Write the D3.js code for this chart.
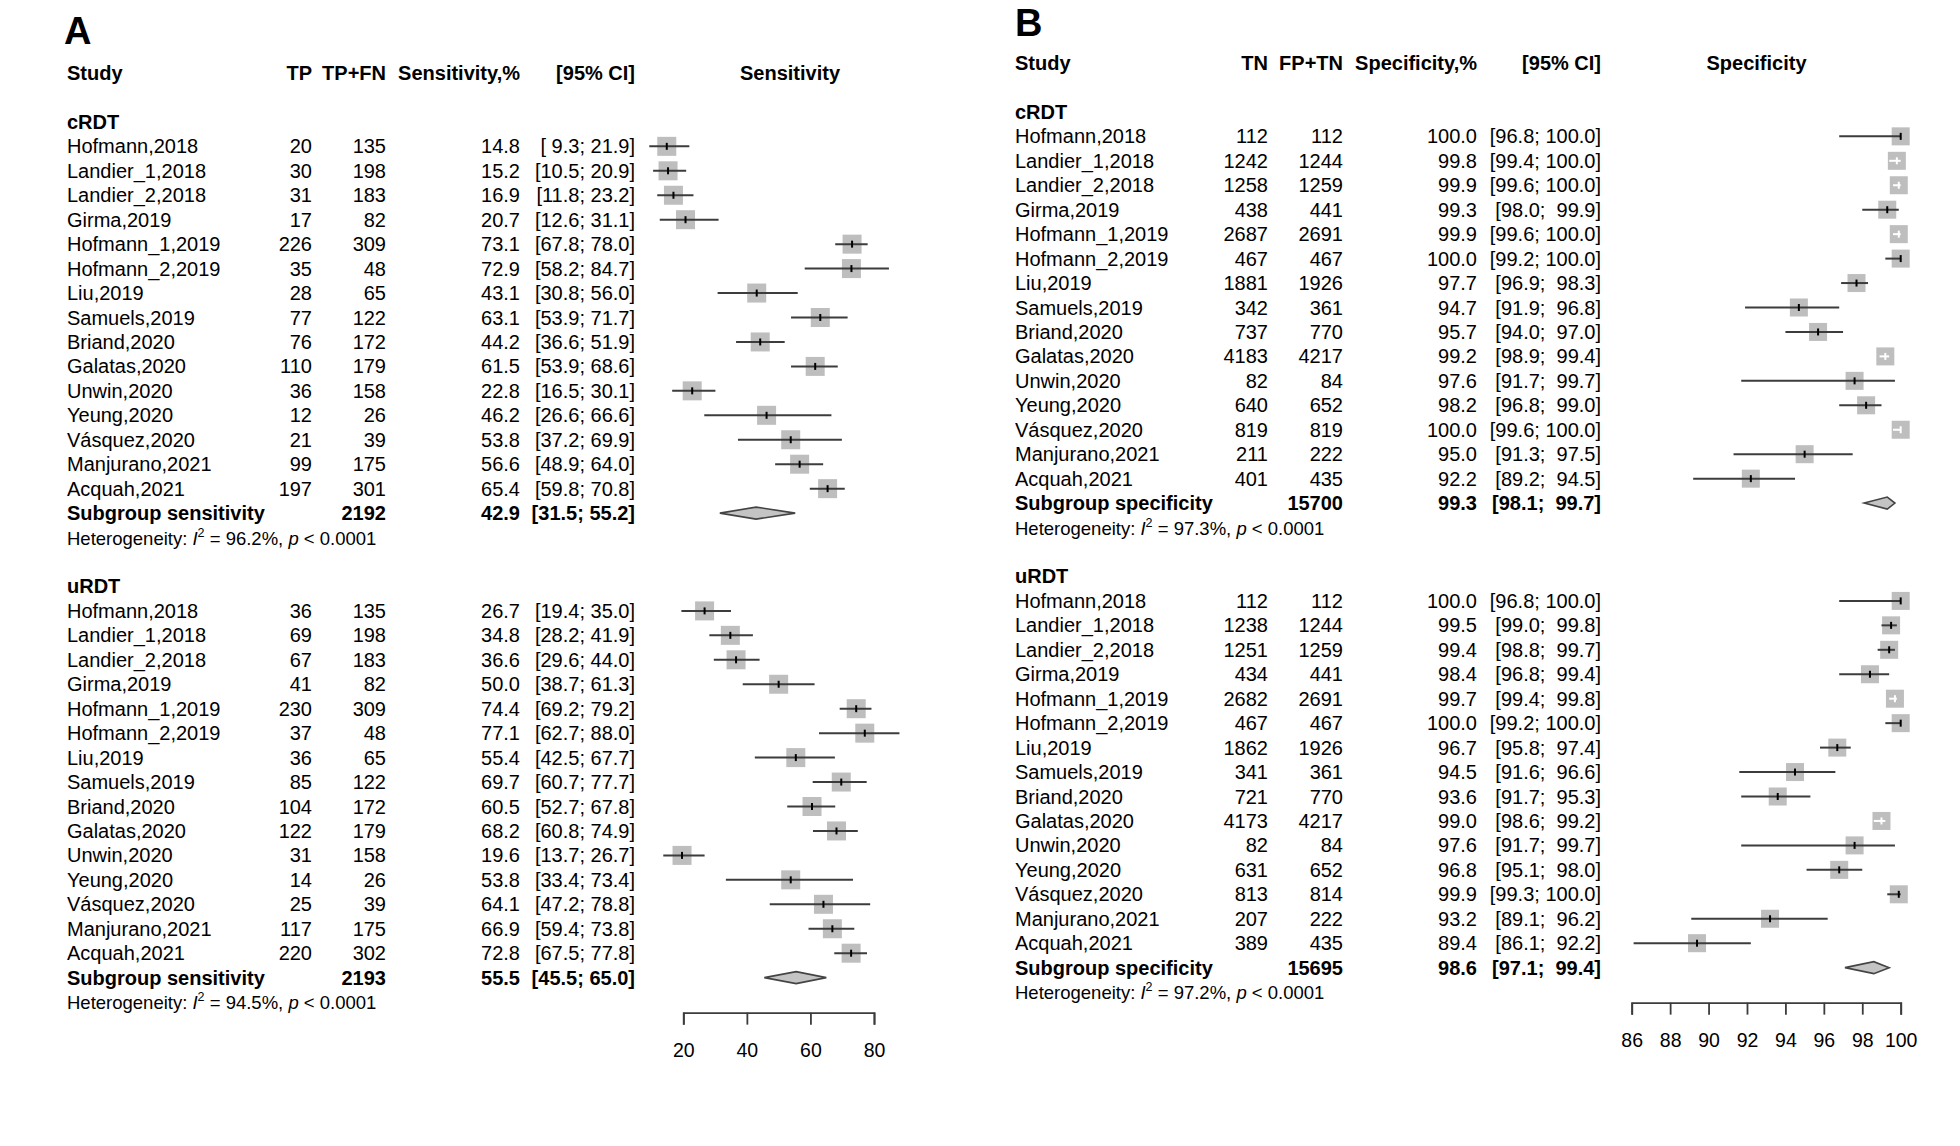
<!DOCTYPE html>
<html>
<head>
<meta charset="utf-8">
<script src="https://cdn.jsdelivr.net/npm/d3@7"></script>
<style>
  html, body { margin: 0; padding: 0; background: #fff; }
  svg { display: block; }
  text { font-family: "Liberation Sans", Arial, Helvetica, sans-serif; fill: #000; white-space: pre; }
</style>
</head>
<body>
<svg id="chart" width="1960" height="1146"></svg>
<script>
// ---------------- DATA ----------------
const studies = ["Hofmann,2018", "Landier_1,2018", "Landier_2,2018", "Girma,2019", "Hofmann_1,2019",
  "Hofmann_2,2019", "Liu,2019", "Samuels,2019", "Briand,2020", "Galatas,2020", "Unwin,2020",
  "Yeung,2020", "Vásquez,2020", "Manjurano,2021", "Acquah,2021"];
const subgroups = ["cRDT", "uRDT"];

// Panel A – sensitivity
const crdtTP   = [20, 30, 31, 17, 226, 35, 28, 77, 76, 110, 36, 12, 21, 99, 197];
const crdtTPFN = [135, 198, 183, 82, 309, 48, 65, 122, 172, 179, 158, 26, 39, 175, 301];
const crdtSens   = [14.8, 15.2, 16.9, 20.7, 73.1, 72.9, 43.1, 63.1, 44.2, 61.5, 22.8, 46.2, 53.8, 56.6, 65.4];
const crdtSensLo = [9.3, 10.5, 11.8, 12.6, 67.8, 58.2, 30.8, 53.9, 36.6, 53.9, 16.5, 26.6, 37.2, 48.9, 59.8];
const crdtSensHi = [21.9, 20.9, 23.2, 31.1, 78.0, 84.7, 56.0, 71.7, 51.9, 68.6, 30.1, 66.6, 69.9, 64.0, 70.8];

const urdtTP   = [36, 69, 67, 41, 230, 37, 36, 85, 104, 122, 31, 14, 25, 117, 220];
const urdtTPFN = [135, 198, 183, 82, 309, 48, 65, 122, 172, 179, 158, 26, 39, 175, 302];
const urdtSens   = [26.7, 34.8, 36.6, 50.0, 74.4, 77.1, 55.4, 69.7, 60.5, 68.2, 19.6, 53.8, 64.1, 66.9, 72.8];
const urdtSensLo = [19.4, 28.2, 29.6, 38.7, 69.2, 62.7, 42.5, 60.7, 52.7, 60.8, 13.7, 33.4, 47.2, 59.4, 67.5];
const urdtSensHi = [35.0, 41.9, 44.0, 61.3, 79.2, 88.0, 67.7, 77.7, 67.8, 74.9, 26.7, 73.4, 78.8, 73.8, 77.8];

const sensPooledN   = [2192, 2193];
const sensPooled    = [42.9, 55.5];
const sensPooledLo  = [31.5, 45.5];
const sensPooledHi  = [55.2, 65.0];
const sensI2        = ["96.2%", "94.5%"];
const sensTicks     = [20, 40, 60, 80];

// Panel B – specificity
const crdtTN   = [112, 1242, 1258, 438, 2687, 467, 1881, 342, 737, 4183, 82, 640, 819, 211, 401];
const crdtFPTN = [112, 1244, 1259, 441, 2691, 467, 1926, 361, 770, 4217, 84, 652, 819, 222, 435];
const crdtSpec   = [100.0, 99.8, 99.9, 99.3, 99.9, 100.0, 97.7, 94.7, 95.7, 99.2, 97.6, 98.2, 100.0, 95.0, 92.2];
const crdtSpecLo = [96.8, 99.4, 99.6, 98.0, 99.6, 99.2, 96.9, 91.9, 94.0, 98.9, 91.7, 96.8, 99.6, 91.3, 89.2];
const crdtSpecHi = [100.0, 100.0, 100.0, 99.9, 100.0, 100.0, 98.3, 96.8, 97.0, 99.4, 99.7, 99.0, 100.0, 97.5, 94.5];

const urdtTN   = [112, 1238, 1251, 434, 2682, 467, 1862, 341, 721, 4173, 82, 631, 813, 207, 389];
const urdtFPTN = [112, 1244, 1259, 441, 2691, 467, 1926, 361, 770, 4217, 84, 652, 814, 222, 435];
const urdtSpec   = [100.0, 99.5, 99.4, 98.4, 99.7, 100.0, 96.7, 94.5, 93.6, 99.0, 97.6, 96.8, 99.9, 93.2, 89.4];
const urdtSpecLo = [96.8, 99.0, 98.8, 96.8, 99.4, 99.2, 95.8, 91.6, 91.7, 98.6, 91.7, 95.1, 99.3, 89.1, 86.1];
const urdtSpecHi = [100.0, 99.8, 99.7, 99.4, 99.8, 100.0, 97.4, 96.6, 95.3, 99.2, 99.7, 98.0, 100.0, 96.2, 92.2];

const specPooledN  = [15700, 15695];
const specPooled   = [99.3, 98.6];
const specPooledLo = [98.1, 97.1];
const specPooledHi = [99.7, 99.4];
const specI2       = ["97.3%", "97.2%"];
const specTicks    = [86, 88, 90, 92, 94, 96, 98, 100];

// ---------------- DRAWING ----------------
const svg = d3.select("#chart");
svg.append("rect").attr("width", 1960).attr("height", 1146).attr("fill", "#fff");

const FS = 20;
const LINE = "#3c3c3c";
const SQ = "#bebebe";

function drawPanel(cfg) {
  const g = svg.append("g");
  const rowY = d3.scaleLinear().domain([0, 1]).range([cfg.y0, cfg.y0 + 24.45]);
  const x = d3.scaleLinear().domain(cfg.domain).range(cfg.range);
  const cy = r => rowY(r) - 7;

  // panel letter
  g.append("text").attr("x", cfg.letterX).attr("y", cfg.letterY)
    .attr("font-size", 38).attr("font-weight", "bold").text(cfg.letter);

  // headers
  const hdr = g.append("g").attr("font-size", FS).attr("font-weight", "bold");
  hdr.append("text").attr("x", cfg.cStudy).attr("y", rowY(0)).text("Study");
  cfg.heads.forEach((h, i) => {
    hdr.append("text").attr("x", cfg.cols[i]).attr("y", rowY(0)).attr("text-anchor", "end").text(h);
  });
  hdr.append("text").attr("x", cfg.plotHeadX).attr("y", rowY(0)).attr("text-anchor", "middle").text(cfg.plotHead);

  const allLo = cfg.groups.flatMap(gr => gr.lo).concat(cfg.pooledLo);
  const allHi = cfg.groups.flatMap(gr => gr.hi).concat(cfg.pooledHi);
  const wLo = d3.max(allLo, v => v.toFixed(1).length);
  const wHi = d3.max(allHi, v => v.toFixed(1).length);
  const ciStr = (l, h) => "[" + l.toFixed(1).padStart(wLo) + "; " + h.toFixed(1).padStart(wHi) + "]";

  cfg.groups.forEach((gr, gi) => {
    const base = gi === 0 ? 2 : 21;
    // subgroup label
    g.append("text").attr("x", cfg.cStudy).attr("y", rowY(base)).attr("font-size", FS)
      .attr("font-weight", "bold").text(subgroups[gi]);

    studies.forEach((s, i) => {
      const r = base + 1 + i;
      const t = g.append("g").attr("font-size", FS);
      t.append("text").attr("x", cfg.cStudy).attr("y", rowY(r)).text(s);
      t.append("text").attr("x", cfg.cols[0]).attr("y", rowY(r)).attr("text-anchor", "end").text(gr.n1[i]);
      t.append("text").attr("x", cfg.cols[1]).attr("y", rowY(r)).attr("text-anchor", "end").text(gr.n2[i]);
      t.append("text").attr("x", cfg.cols[2]).attr("y", rowY(r)).attr("text-anchor", "end").text(gr.est[i].toFixed(1));
      t.append("text").attr("x", cfg.cols[3]).attr("y", rowY(r)).attr("text-anchor", "end").text(ciStr(gr.lo[i], gr.hi[i]));

      // marks
      const c = cy(r), xe = x(gr.est[i]), xl = x(gr.lo[i]), xh = x(gr.hi[i]);
      const hs = cfg.half;
      g.append("rect").attr("x", xe - hs).attr("y", c - hs).attr("width", 2 * hs).attr("height", 2 * hs)
        .attr("fill", SQ);
      const inside = xl >= xe - hs && xh <= xe + hs;
      const col = inside ? "#fff" : LINE;
      g.append("line").attr("x1", xl).attr("x2", xh).attr("y1", c).attr("y2", c)
        .attr("stroke", col).attr("stroke-width", 2);
      g.append("line").attr("x1", xe).attr("x2", xe).attr("y1", c - 3.5).attr("y2", c + 3.5)
        .attr("stroke", inside ? "#fff" : "#000").attr("stroke-width", 2);
    });

    // pooled row
    const pr = base + 16;
    const pt = g.append("g").attr("font-size", FS).attr("font-weight", "bold");
    pt.append("text").attr("x", cfg.cStudy).attr("y", rowY(pr)).text(cfg.pooledLabel);
    pt.append("text").attr("x", cfg.cols[1]).attr("y", rowY(pr)).attr("text-anchor", "end").text(cfg.pooledN[gi]);
    pt.append("text").attr("x", cfg.cols[2]).attr("y", rowY(pr)).attr("text-anchor", "end").text(cfg.pooled[gi].toFixed(1));
    pt.append("text").attr("x", cfg.cols[3]).attr("y", rowY(pr)).attr("text-anchor", "end").text(ciStr(cfg.pooledLo[gi], cfg.pooledHi[gi]));
    const c = cy(pr);
    const xl = x(cfg.pooledLo[gi]), xe = x(cfg.pooled[gi]), xh = x(cfg.pooledHi[gi]);
    g.append("path").attr("d", `M${xl},${c} L${xe},${c - 6} L${xh},${c} L${xe},${c + 6} Z`)
      .attr("fill", "#c4c4c4").attr("stroke", "#444").attr("stroke-width", 1.6);

    // heterogeneity
    const ht = g.append("text").attr("x", cfg.cStudy).attr("y", rowY(pr + 1)).attr("font-size", 18.5);
    ht.append("tspan").text("Heterogeneity: ");
    ht.append("tspan").attr("font-style", "italic").text("I");
    ht.append("tspan").attr("font-size", 12.5).attr("dy", -8).text("2");
    ht.append("tspan").attr("dy", 8).text(" = " + cfg.i2[gi] + ", ");
    ht.append("tspan").attr("font-style", "italic").text("p");
    ht.append("tspan").text(" < 0.0001");
  });

  // axis
  const axY = rowY(37) + 28;
  const ax = g.append("g").attr("transform", `translate(0,${axY})`)
    .call(d3.axisBottom(x).tickValues(cfg.ticks).tickSize(12).tickSizeOuter(12).tickPadding(19)
      .tickFormat(d3.format("d")));
  ax.selectAll("path, line").attr("stroke", LINE).attr("stroke-width", 1.8);
  ax.selectAll("text").attr("font-size", 19.5).attr("fill", "#000")
    .attr("font-family", '"Liberation Sans", Arial, Helvetica, sans-serif');
}

drawPanel({
  letter: "A", letterX: 64, letterY: 44,
  y0: 80,
  cStudy: 67,
  cols: [312, 386, 520, 635],
  heads: ["TP", "TP+FN", "Sensitivity,%", "[95% CI]"],
  plotHead: "Sensitivity", plotHeadX: 790,
  domain: [20, 80], range: [683.3, 874],
  half: 9.5,
  groups: [
    { n1: crdtTP, n2: crdtTPFN, est: crdtSens, lo: crdtSensLo, hi: crdtSensHi },
    { n1: urdtTP, n2: urdtTPFN, est: urdtSens, lo: urdtSensLo, hi: urdtSensHi }
  ],
  pooledLabel: "Subgroup sensitivity",
  pooledN: sensPooledN, pooled: sensPooled, pooledLo: sensPooledLo, pooledHi: sensPooledHi,
  i2: sensI2, ticks: sensTicks
});

drawPanel({
  letter: "B", letterX: 1015, letterY: 36,
  y0: 70,
  cStudy: 1015,
  cols: [1268, 1343, 1477, 1601],
  heads: ["TN", "FP+TN", "Specificity,%", "[95% CI]"],
  plotHead: "Specificity", plotHeadX: 1756.5,
  domain: [86, 100], range: [1631.7, 1900.7],
  half: 9,
  groups: [
    { n1: crdtTN, n2: crdtFPTN, est: crdtSpec, lo: crdtSpecLo, hi: crdtSpecHi },
    { n1: urdtTN, n2: urdtFPTN, est: urdtSpec, lo: urdtSpecLo, hi: urdtSpecHi }
  ],
  pooledLabel: "Subgroup specificity",
  pooledN: specPooledN, pooled: specPooled, pooledLo: specPooledLo, pooledHi: specPooledHi,
  i2: specI2, ticks: specTicks
});
</script>
</body>
</html>
